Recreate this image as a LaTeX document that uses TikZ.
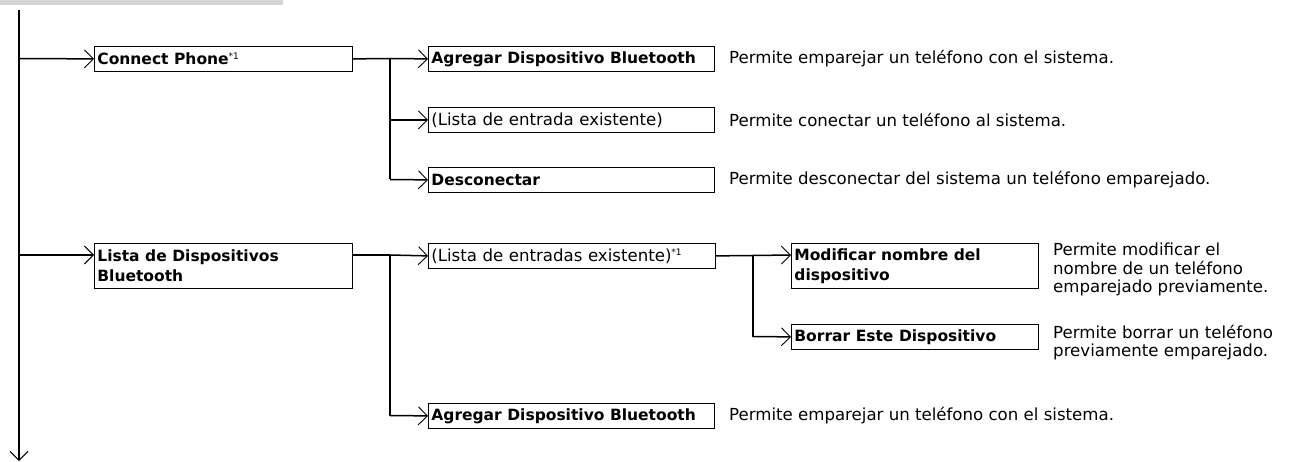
\documentclass[tikz,border=0pt]{standalone}
\usepackage{fontspec}
\setmainfont{DejaVu Sans}
\usetikzlibrary{arrows.meta,calc}
\definecolor{bargray}{RGB}{211,212,214}
\newcommand{\fs}{\fontsize{16.6}{20}\selectfont}
\newcommand{\fd}{\fontsize{16.6}{18.3}\selectfont}
\newcommand{\bt}[1]{{\fontsize{15.5}{20}\selectfont\bfseries #1}}
\newcommand{\sta}{\raisebox{5.5pt}{\fontsize{9}{9}\selectfont\normalfont *1}}
\tikzset{
  box/.style={draw, line width=0.8pt, anchor=north west, inner xsep=3pt, inner ysep=0pt,
    align=left, font=\fs, minimum height=25pt},
  conn/.style={line width=1.5pt},
  arr/.style={conn, -{Straight Barb[length=9pt,width=18pt,line width=0.9pt]}},
  desc/.style={anchor=west, inner sep=0pt, align=left, font=\fd},
  descm/.style={anchor=north west, inner sep=0pt, align=left, font=\fd}
}
\begin{document}
\begin{tikzpicture}[x=1pt,y=-1pt]
\useasboundingbox (0,0) rectangle (1298,462);
\fill[bargray] (0,0) rectangle (283,5);
% boxes
\node[box, text width=252pt] (cp) at (94,46) {\bt{Connect Phone}\sta};
\node[box, text width=252pt, minimum height=45pt] (ldb) at (94,243) {\bt{Lista de Dispositivos}\\\bt{Bluetooth}};
\node[box, text width=280pt] (a1) at (428,46) {\bt{Agregar Dispositivo Bluetooth}};
\node[box, text width=280pt] (la) at (428,107) {(Lista de entrada existente)};
\node[box, text width=280pt] (dc) at (428,167) {\bt{Desconectar}};
\node[box, text width=281pt] (le) at (428,243) {(Lista de entradas existente)\sta};
\node[box, text width=280pt] (a2) at (428,403) {\bt{Agregar Dispositivo Bluetooth}};
\node[box, text width=241pt, minimum height=45pt] (mo) at (791,243) {\bt{Modificar nombre del}\\\bt{dispositivo}};
\node[box, text width=241pt] (br) at (791,324) {\bt{Borrar Este Dispositivo}};
% descriptions
\node[desc] (d1) at (729,58.5) {Permite emparejar un teléfono con el sistema.};
\node[desc] (d2) at (729,119.5) {Permite conectar un teléfono al sistema.};
\node[desc] (d3) at (729,179.5) {Permite desconectar del sistema un teléfono emparejado.};
\node[desc] (d4) at (729,415.5) {Permite emparejar un teléfono con el sistema.};
\node[descm] (d5) at (1053,243) {Permite modificar el\\nombre de un teléfono\\emparejado previamente.};
\node[descm] (d6) at (1053,325) {Permite borrar un teléfono\\previamente emparejado.};
% junction coordinates
\coordinate (top) at (19,10);
\coordinate (bot) at (19,461);
\coordinate (m1) at (19,58.5);
\coordinate (m2) at (19,255);
\coordinate (j1) at (390,58.5);
\coordinate (j1b) at (390,179.5);
\coordinate (j2) at (390,255);
\coordinate (j2b) at (390,415.5);
\coordinate (j3) at (753,255.5);
\coordinate (j3b) at (753,336.5);
% connectors
\draw[arr] (top) -- (bot);
\draw[arr] (m1) -- (cp.west);
\draw[arr] (m2) -- ([yshift=-12pt]ldb.north west);
\draw[conn] (cp.east) -- (j1);
\draw[arr] (j1) -- (a1.west);
\draw[conn] (j1) -- (j1b);
\draw[arr] (j1 |- la.west) -- (la.west);
\draw[arr] (j1b) -- (dc.west);
\draw[conn] ([yshift=-12pt]ldb.north east) -- (j2);
\draw[arr] (j2) -- (le.west);
\draw[conn] (j2) -- (j2b);
\draw[arr] (j2b) -- (a2.west);
\draw[conn] (le.east) -- (j3);
\draw[arr] (j3) -- ([yshift=-12pt]mo.north west);
\draw[conn] ([yshift=0.5pt]j3) -- (j3b);
\draw[arr] (j3b) -- (br.west);
\end{tikzpicture}
\end{document}
